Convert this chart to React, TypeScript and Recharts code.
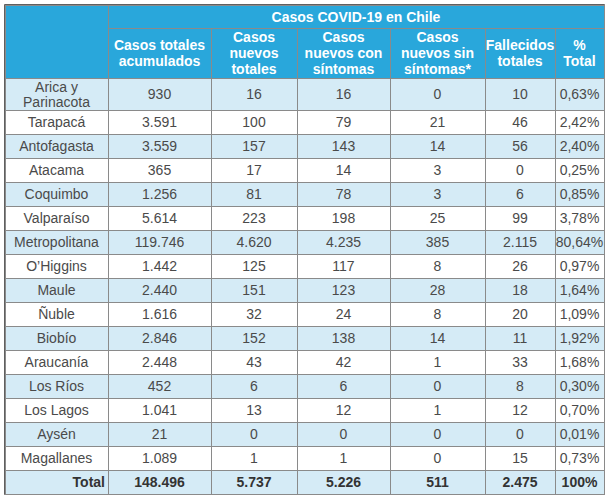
import { ReferenceArea, Scatter, ScatterChart, XAxis, YAxis } from 'recharts';

const title = 'Casos COVID-19 en Chile';

const columnHeaders = [
  ['Casos totales', 'acumulados'],
  ['Casos', 'nuevos', 'totales'],
  ['Casos', 'nuevos con', 'síntomas'],
  ['Casos', 'nuevos sin', 'síntomas*'],
  ['Fallecidos', 'totales'],
  ['%', 'Total'],
];

const regions = [
  'Arica y\nParinacota',
  'Tarapacá',
  'Antofagasta',
  'Atacama',
  'Coquimbo',
  'Valparaíso',
  'Metropolitana',
  'O’Higgins',
  'Maule',
  'Ñuble',
  'Biobío',
  'Araucanía',
  'Los Ríos',
  'Los Lagos',
  'Aysén',
  'Magallanes',
];

const casosTotales = [930, 3591, 3559, 365, 1256, 5614, 119746, 1442, 2440, 1616, 2846, 2448, 452, 1041, 21, 1089];
const nuevosTotales = [16, 100, 157, 17, 81, 223, 4620, 125, 151, 32, 152, 43, 6, 13, 0, 1];
const nuevosConSintomas = [16, 79, 143, 14, 78, 198, 4235, 117, 123, 24, 138, 42, 6, 12, 0, 1];
const nuevosSinSintomas = [0, 21, 14, 3, 3, 25, 385, 8, 28, 8, 14, 1, 0, 1, 0, 0];
const fallecidos = [10, 46, 56, 0, 6, 99, 2115, 26, 18, 20, 11, 33, 8, 12, 0, 15];
const pctTotal = [0.63, 2.42, 2.4, 0.25, 0.85, 3.78, 80.64, 0.97, 1.64, 1.09, 1.92, 1.68, 0.3, 0.7, 0.01, 0.73];

const totalLabel = 'Total';
const totals = [148496, 5737, 5226, 511, 2475];
const totalPct = '100%';

// layout
const W = 615;
const H = 500;
const colEdges = [5, 108, 211, 297, 390, 485, 555, 604];
const headerEdges = [5, 28, 78];
const firstRowH = 32;
const rowH = 24;

const HEADER_BLUE = '#29a7db';
const LIGHT = '#d5ebf6';
const GRID = '#8a8a8a';
const FONT = '"Liberation Sans", Arial, Helvetica, sans-serif';

const fmtInt = (n: number) => String(n).replace(/\B(?=(\d{3})+(?!\d))/g, '.');
const fmtPct = (n: number) => n.toFixed(2).replace('.', ',') + '%';

type Cell = {
  x: number;
  y: number;
  w: number;
  h: number;
  lines: string[];
  fill: string;
  color: string;
  bold: boolean;
  align: 'middle' | 'end';
  lineH: number;
};

function buildCells(): Cell[] {
  const cells: Cell[] = [];
  const add = (c0: number, c1: number, y0: number, y1: number, text: string | string[], fill: string, color: string, bold: boolean, align: 'middle' | 'end' = 'middle', lineH = 15) => {
    const x0 = colEdges[c0];
    const x1 = colEdges[c1];
    cells.push({
      x: (x0 + x1) / 2,
      y: (y0 + y1) / 2,
      w: x1 - x0,
      h: y1 - y0,
      lines: Array.isArray(text) ? text : text.split('\n'),
      fill,
      color,
      bold,
      align,
      lineH,
    });
  };

  add(0, 1, headerEdges[0], headerEdges[2], '', HEADER_BLUE, '#fff', true);
  add(1, 7, headerEdges[0], headerEdges[1], title, HEADER_BLUE, '#fff', true);
  columnHeaders.forEach((h, i) => add(i + 1, i + 2, headerEdges[1], headerEdges[2], h, HEADER_BLUE, '#fff', true, 'middle', 16));

  let y = headerEdges[2];
  regions.forEach((name, i) => {
    const h = i === 0 ? firstRowH : rowH;
    const fill = i % 2 === 0 ? LIGHT : '#ffffff';
    const vals = [
      fmtInt(casosTotales[i]),
      fmtInt(nuevosTotales[i]),
      fmtInt(nuevosConSintomas[i]),
      fmtInt(nuevosSinSintomas[i]),
      fmtInt(fallecidos[i]),
      fmtPct(pctTotal[i]),
    ];
    add(0, 1, y, y + h, name, fill, '#4a4a4a', false);
    vals.forEach((v, j) => add(j + 1, j + 2, y, y + h, v, fill, '#4a4a4a', false));
    y += h;
  });

  add(0, 1, y, y + rowH, totalLabel, LIGHT, '#333', true, 'end');
  totals.forEach((v, j) => add(j + 1, j + 2, y, y + rowH, fmtInt(v), LIGHT, '#333', true));
  add(6, 7, y, y + rowH, totalPct, LIGHT, '#333', true);

  return cells;
}

const cells = buildCells();

function CellShape(props: any) {
  const { cx, cy, payload } = props;
  const c: Cell = payload;
  const left = cx - c.w / 2;
  const top = cy - c.h / 2;
  const tx = c.align === 'end' ? left + c.w - 3 : cx;
  return (
    <g>
      <rect x={left + 0.5} y={top + 0.5} width={c.w} height={c.h} fill={c.fill} stroke={GRID} strokeWidth={1} />
      {c.lines.some((l) => l) && (
        <text
          x={tx}
          y={cy}
          textAnchor={c.align}
          fill={c.color}
          fontSize={14}
          fontWeight={c.bold ? 700 : 400}
          fontFamily={FONT}
        >
          {c.lines.map((line, i) => (
            <tspan key={i} x={tx} y={cy + (i - (c.lines.length - 1) / 2) * c.lineH} dominantBaseline="central">
              {line}
            </tspan>
          ))}
        </text>
      )}
    </g>
  );
}

export default function App() {
  return (
    <div style={{ position: 'absolute', left: 0, top: 0, background: '#fff' }}>
      <ScatterChart width={W} height={H} margin={{ top: 0, right: 0, bottom: 0, left: 0 }}>
        <XAxis type="number" dataKey="x" domain={[0, W]} allowDataOverflow hide />
        <YAxis type="number" dataKey="y" domain={[0, H]} allowDataOverflow reversed hide />
        <Scatter data={cells} shape={CellShape} isAnimationActive={false} />
        <ReferenceArea
          x1={colEdges[0]}
          x2={colEdges[colEdges.length - 1]}
          y1={headerEdges[0]}
          y2={494}
          fill="none"
          fillOpacity={0}
          stroke="#2b2b2b"
          strokeWidth={1.5}
          ifOverflow="visible"
        />
      </ScatterChart>
    </div>
  );
}
